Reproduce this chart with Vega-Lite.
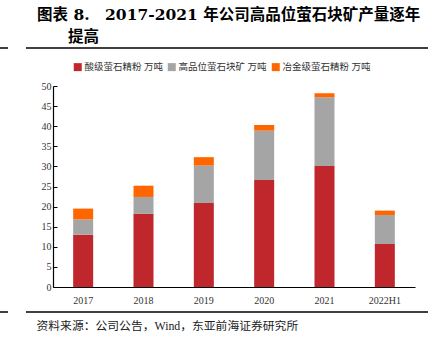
{
  "$schema": "https://vega.github.io/schema/vega-lite/v6.json",
  "width": 362,
  "height": 201,
  "autosize": {"type": "none"},
  "padding": {"left": 53, "top": 86, "right": 18, "bottom": 66},
  "background": "white",
  "title": {
    "text": ["图表 8.\u30002017-2021\u00a0年公司高品位萤石块矿产量逐年", "\u200b\u3000\u3000提高"],
    "anchor": "start",
    "frame": "group",
    "dx": -16,
    "offset": 2,
    "font": "DejaVu Serif, Noto Sans CJK SC",
    "fontSize": 15.5,
    "fontWeight": "bold",
    "color": "#000000",
    "lineHeight": 22
  },
  "config": {
    "view": {"stroke": null},
    "font": "Liberation Serif, Noto Sans CJK SC"
  },
  "layer": [
    {
      "data": {
        "values": [
          {"year": "2017", "type": "酸级萤石精粉 万吨", "value": 13.0, "order": 1},
          {"year": "2017", "type": "高品位萤石块矿 万吨", "value": 3.8, "order": 2},
          {"year": "2017", "type": "冶金级萤石精粉 万吨", "value": 2.7, "order": 3},
          {"year": "2018", "type": "酸级萤石精粉 万吨", "value": 18.2, "order": 1},
          {"year": "2018", "type": "高品位萤石块矿 万吨", "value": 4.2, "order": 2},
          {"year": "2018", "type": "冶金级萤石精粉 万吨", "value": 2.8, "order": 3},
          {"year": "2019", "type": "酸级萤石精粉 万吨", "value": 20.9, "order": 1},
          {"year": "2019", "type": "高品位萤石块矿 万吨", "value": 9.3, "order": 2},
          {"year": "2019", "type": "冶金级萤石精粉 万吨", "value": 2.1, "order": 3},
          {"year": "2020", "type": "酸级萤石精粉 万吨", "value": 26.6, "order": 1},
          {"year": "2020", "type": "高品位萤石块矿 万吨", "value": 12.3, "order": 2},
          {"year": "2020", "type": "冶金级萤石精粉 万吨", "value": 1.4, "order": 3},
          {"year": "2021", "type": "酸级萤石精粉 万吨", "value": 30.1, "order": 1},
          {"year": "2021", "type": "高品位萤石块矿 万吨", "value": 17.1, "order": 2},
          {"year": "2021", "type": "冶金级萤石精粉 万吨", "value": 1.0, "order": 3},
          {"year": "2022H1", "type": "酸级萤石精粉 万吨", "value": 10.7, "order": 1},
          {"year": "2022H1", "type": "高品位萤石块矿 万吨", "value": 7.2, "order": 2},
          {"year": "2022H1", "type": "冶金级萤石精粉 万吨", "value": 1.1, "order": 3}
        ]
      },
      "mark": {"type": "bar", "size": 20},
      "encoding": {
        "x": {
          "field": "year",
          "type": "nominal",
          "sort": null,
          "scale": {"paddingInner": 0, "paddingOuter": 0},
          "axis": {
            "title": "资料来源：公司公告，Wind，东亚前海证券研究所",
            "titleAnchor": "start",
            "titleAlign": "left",
            "titleBaseline": "middle",
            "titleX": -17,
            "titleY": 38,
            "titleFontSize": 11.8,
            "titleFontWeight": "normal",
            "titleColor": "#222222",
            "titleFont": "Liberation Serif, Noto Sans CJK SC",
            "labelAngle": 0,
            "labelFontSize": 10,
            "labelColor": "#333333",
            "labelPadding": 8,
            "ticks": false,
            "domainColor": "#000000",
            "domainWidth": 1.2
          }
        },
        "y": {
          "field": "value",
          "type": "quantitative",
          "stack": "zero",
          "scale": {"domain": [0, 50]},
          "axis": {
            "title": null,
            "values": [0, 5, 10, 15, 20, 25, 30, 35, 40, 45, 50],
            "grid": false,
            "labelFontSize": 10,
            "labelColor": "#333333",
            "labelPadding": 6,
            "tickSize": -4,
            "tickColor": "#000000",
            "domainColor": "#000000",
            "domainWidth": 1.2
          }
        },
        "color": {
          "field": "type",
          "type": "nominal",
          "sort": ["酸级萤石精粉 万吨", "高品位萤石块矿 万吨", "冶金级萤石精粉 万吨"],
          "scale": {
            "domain": ["酸级萤石精粉 万吨", "高品位萤石块矿 万吨", "冶金级萤石精粉 万吨"],
            "range": ["#C0272D", "#A5A5A5", "#FF6600"]
          },
          "legend": {
            "title": null,
            "orient": "none",
            "legendX": 20,
            "legendY": -24,
            "direction": "horizontal",
            "symbolType": "square",
            "symbolSize": 64,
            "symbolStrokeWidth": 0,
            "labelFontSize": 9.5,
            "labelColor": "#333333",
            "labelOffset": 2,
            "columnPadding": 4
          }
        },
        "order": {"field": "order", "type": "quantitative"}
      }
    },
    {
      "data": {"values": [{}]},
      "mark": {"type": "rule", "color": "#000000", "strokeWidth": 1.5},
      "encoding": {"x": {"value": -53}, "x2": {"value": -45}, "y": {"value": -38}}
    },
    {
      "data": {"values": [{}]},
      "mark": {"type": "rule", "color": "#000000", "strokeWidth": 1.5},
      "encoding": {"x": {"value": -27}, "x2": {"value": 375}, "y": {"value": -38}}
    },
    {
      "data": {"values": [{}]},
      "mark": {"type": "rule", "color": "#000000", "strokeWidth": 1.5},
      "encoding": {"x": {"value": -53}, "x2": {"value": -45}, "y": {"value": 226}}
    },
    {
      "data": {"values": [{}]},
      "mark": {"type": "rule", "color": "#000000", "strokeWidth": 1.5},
      "encoding": {"x": {"value": -27}, "x2": {"value": 375}, "y": {"value": 226}}
    }
  ]
}
